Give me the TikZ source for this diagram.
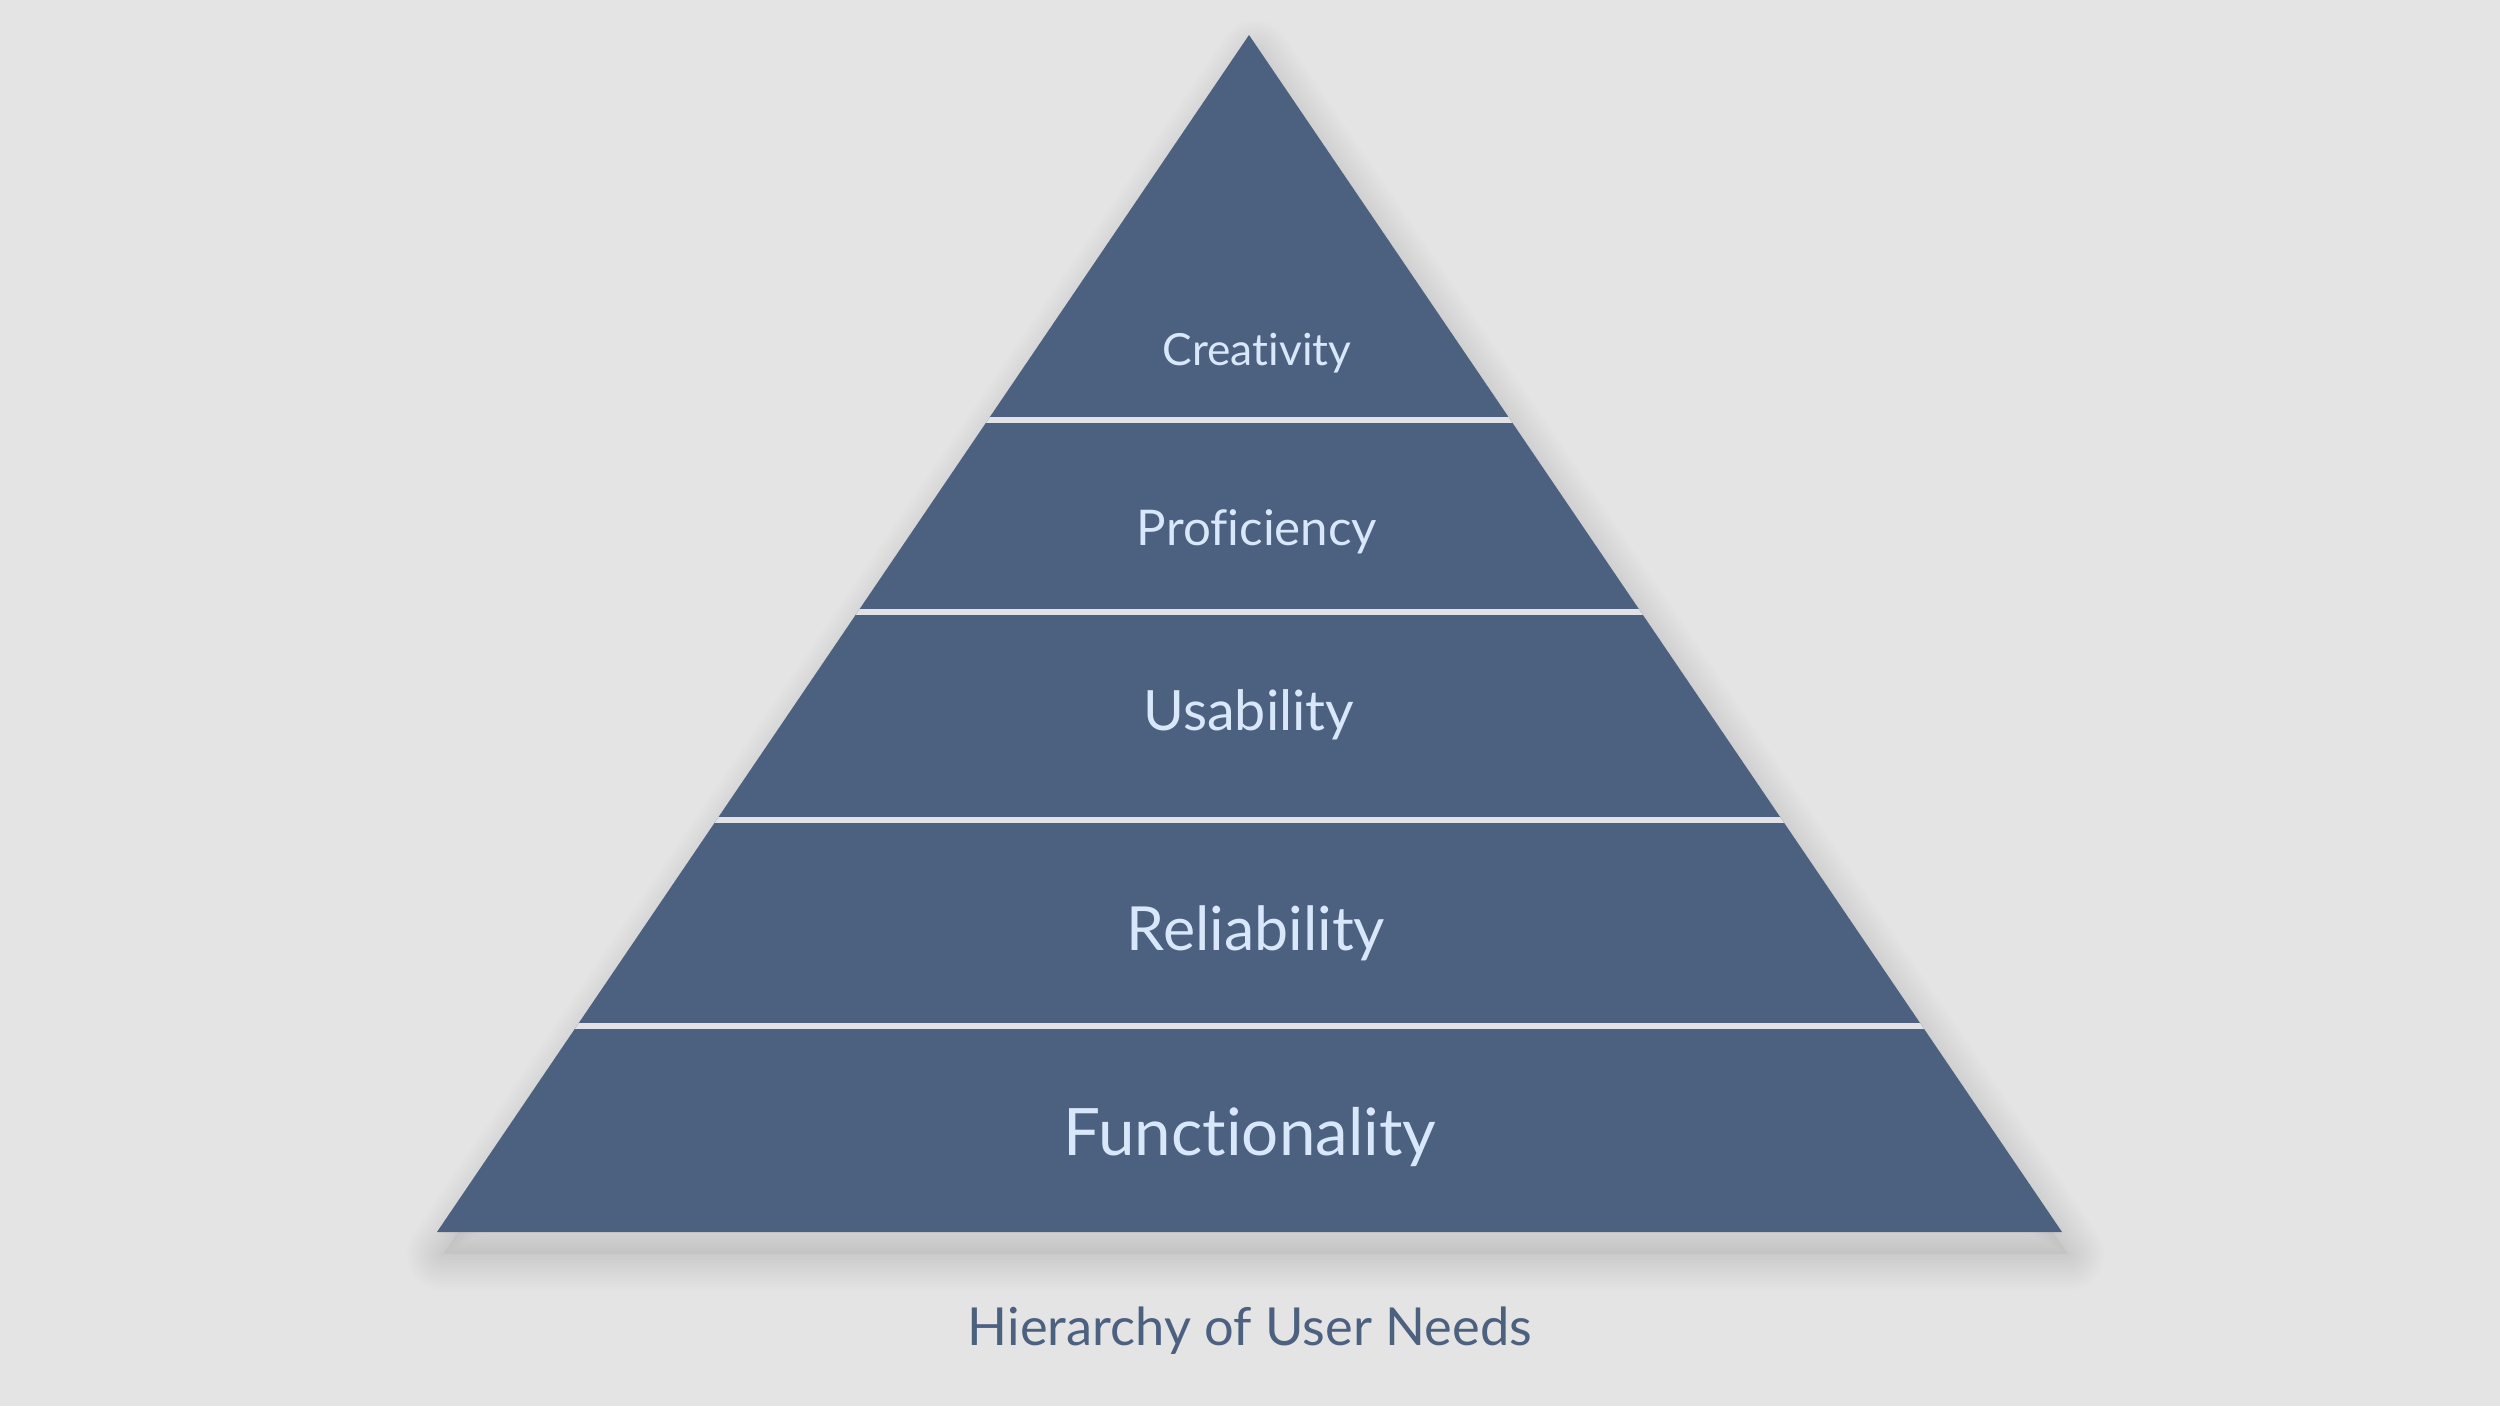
\documentclass[tikz,border=0pt]{standalone}
\usepackage{fontspec}
\setmainfont{Lato}[Ligatures={NoCommon}]
\definecolor{bgc}{HTML}{E4E4E4}
\definecolor{pyr}{HTML}{4C607F}
\definecolor{txt}{HTML}{D8E8FA}
\definecolor{sep}{HTML}{E2E2E6}
\tikzset{
  lvl/.style={text=txt, inner sep=0pt, anchor=center},
  sepline/.style={draw=sep, line width=1.45pt},
}
\begin{document}
\begin{tikzpicture}[x=0.01cm,y=-0.01cm]
\fill[bgc] (0,0) rectangle (2500,1406);
\useasboundingbox (0,0) rectangle (2500,1406);
\coordinate (apex) at (1249,35);
\coordinate (bl) at (437,1232);
\coordinate (br) at (2062,1232);
% soft shadow
\fill[black, opacity=0.03] ([shift={(6,22)}]apex) -- ([shift={(6,22)}]br) -- ([shift={(6,22)}]bl) -- cycle;
\foreach \w in {1,...,12}{
  \draw[black, opacity=0.007, line join=round, line width={\w*6*0.2845pt}]
    ([shift={(6,22)}]apex) -- ([shift={(6,22)}]br) -- ([shift={(6,22)}]bl) -- cycle;
}
\fill[pyr] (apex) -- (br) -- (bl) -- cycle;
\begin{scope}
\clip (apex) -- (br) -- (bl) -- cycle;
\foreach \yy in {420,612,820,1026}{
  \draw[sepline] (0,\yy) -- (2500,\yy);
}
\end{scope}
\node[lvl, font=\fontsize{12.6pt}{14pt}\selectfont] (c) at (1257,353) {Creativity};
\node[lvl, font=\fontsize{14pt}{16pt}\selectfont] (p) at (1257,532) {Proficiency};
\node[lvl, font=\fontsize{15.8pt}{18pt}\selectfont] (u) at (1249,715) {Usability};
\node[lvl, font=\fontsize{17.3pt}{20pt}\selectfont] (r) at (1256,933) {Reliability};
\node[lvl, font=\fontsize{18.6pt}{22pt}\selectfont] (f) at (1250,1137) {Functionality};
\node[text=pyr, inner sep=0pt, font=\fontsize{14.9pt}{17pt}\selectfont] (cap) at (1250,1331) {Hierarchy of User Needs};
\end{tikzpicture}
\end{document}
